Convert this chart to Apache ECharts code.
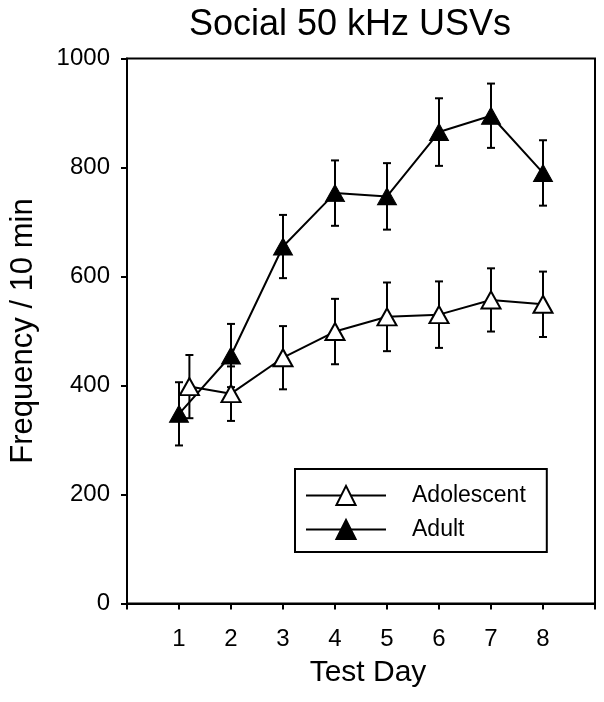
<!DOCTYPE html>
<html>
<head>
<meta charset="utf-8">
<script src="https://cdn.jsdelivr.net/npm/echarts@6/dist/echarts.min.js"></script>
<style>html,body{margin:0;padding:0;background:#fff;}#c{width:604px;height:702px;}</style>
</head>
<body>
<div id="c"></div>
<script>
// ---- data ----
const xTickLabels = ['1', '2', '3', '4', '5', '6', '7', '8'];
const adolDays = [1.2, 2, 3, 4, 5, 6, 7, 8];
const adolMean = [398, 385, 451, 499, 526, 530, 557, 549];
const adolErr  = [58, 50, 58, 60, 63, 61, 58, 60];
const adultDays = [1, 2, 3, 4, 5, 6, 7, 8];
const adultMean = [348, 455, 655, 753, 747, 865, 895, 790];
const adultErr  = [58, 58, 58, 60, 61, 62, 59, 60];

const FONT = 'Liberation Sans, Arial, sans-serif';

function errData(days, mean, err) {
  return days.map((d, i) => [d, mean[i], err[i]]);
}
function pts(days, mean) {
  return days.map((d, i) => [d, mean[i]]);
}
function renderErr(params, api) {
  const x = api.value(0), m = api.value(1), e = api.value(2);
  const top = api.coord([x, m + e]);
  const bot = api.coord([x, m - e]);
  const cap = 4;
  const st = { stroke: '#000', lineWidth: 2 };
  return {
    type: 'group',
    children: [
      { type: 'line', shape: { x1: top[0], y1: top[1], x2: bot[0], y2: bot[1] }, style: st },
      { type: 'line', shape: { x1: top[0] - cap, y1: top[1], x2: top[0] + cap, y2: top[1] }, style: st },
      { type: 'line', shape: { x1: bot[0] - cap, y1: bot[1], x2: bot[0] + cap, y2: bot[1] }, style: st }
    ]
  };
}

const chart = echarts.init(document.getElementById('c'), null, { renderer: 'canvas' });
chart.setOption({
  animation: false,
  backgroundColor: '#fff',
  textStyle: { fontFamily: FONT, color: '#000' },
  title: {
    text: 'Social 50 kHz USVs',
    left: 189, top: 7, padding: 0,
    textStyle: { fontFamily: FONT, fontSize: 36, fontWeight: 'normal', color: '#000' }
  },
  legend: {
    data: ['Adolescent', 'Adult'],
    orient: 'vertical',
    left: 295, top: 469,
    padding: [15, 21, 11, 10],
    borderColor: '#000', borderWidth: 2,
    itemWidth: 80, itemHeight: 24, itemGap: 11,
    selectedMode: false,
    textStyle: { fontFamily: FONT, fontSize: 23, color: '#000', padding: [0, 0, 0, 21] }
  },
  grid: {
    left: 127, right: 9, top: 58.5, bottom: 98.5,
    show: true, borderColor: '#000', borderWidth: 2, backgroundColor: 'transparent'
  },
  xAxis: {
    type: 'value', min: 0, max: 9, interval: 1,
    name: 'Test Day', nameLocation: 'middle', nameGap: 54,
    nameTextStyle: { fontFamily: FONT, fontSize: 30, color: '#000', padding: [0, 0, 0, 14] },
    axisLine: { show: true, lineStyle: { color: '#000', width: 2 } },
    axisTick: { show: true, inside: false, length: 6, lineStyle: { color: '#000', width: 2 } },
    axisLabel: {
      margin: 24, fontFamily: FONT, fontSize: 24, color: '#000',
      formatter: v => (v >= 1 && v <= 8 ? xTickLabels[v - 1] : '')
    },
    splitLine: { show: false }
  },
  yAxis: {
    type: 'value', min: 0, max: 1000, interval: 200,
    name: 'Frequency / 10 min', nameLocation: 'middle', nameGap: 88,
    nameTextStyle: { fontFamily: FONT, fontSize: 31, color: '#000' },
    axisLine: { show: true, lineStyle: { color: '#000', width: 2 } },
    axisTick: { show: true, inside: false, length: 6, lineStyle: { color: '#000', width: 2 } },
    axisLabel: { margin: 17, fontFamily: FONT, fontSize: 24, color: '#000', formatter: v => String(v) },
    splitLine: { show: false }
  },
  series: [
    {
      type: 'custom', name: 'adolErr', z: 1,
      renderItem: renderErr, encode: { x: 0, y: 1 },
      data: errData(adolDays, adolMean, adolErr)
    },
    {
      type: 'custom', name: 'adultErr', z: 1,
      renderItem: renderErr, encode: { x: 0, y: 1 },
      data: errData(adultDays, adultMean, adultErr)
    },
    {
      type: 'line', name: 'Adolescent', z: 3,
      data: pts(adolDays, adolMean),
      symbol: 'triangle', symbolSize: [19, 17], showAllSymbol: true,
      lineStyle: { color: '#000', width: 2 },
      itemStyle: { color: '#fff', borderColor: '#000', borderWidth: 2 }
    },
    {
      type: 'line', name: 'Adult', z: 3,
      data: pts(adultDays, adultMean),
      symbol: 'triangle', symbolSize: [19, 17], showAllSymbol: true,
      lineStyle: { color: '#000', width: 2 },
      itemStyle: { color: '#000', borderColor: '#000', borderWidth: 1 }
    }
  ]
});
</script>
</body>
</html>
